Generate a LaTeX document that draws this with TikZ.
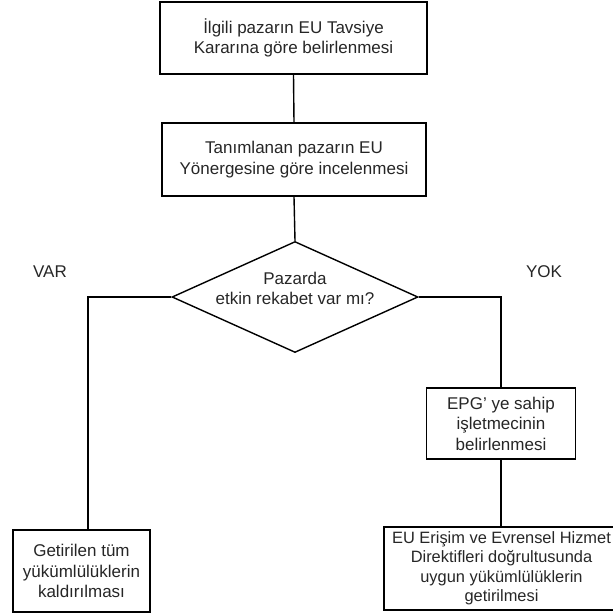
\documentclass[tikz,border=0pt]{standalone}
\usepackage{fontspec}
\setmainfont{Liberation Sans}
\usetikzlibrary{shapes.geometric}

\tikzstyle{kutu} = [draw, line width=1.4pt, inner sep=0pt, align=center, text=black!85]
\tikzstyle{karar} = [draw, diamond, line width=1.4pt, inner sep=-8pt, aspect=2.2, align=center, text=black!85]
\tikzstyle{etiket} = [text=black!85]
\tikzstyle{cizgi} = [line width=1.4pt]

\begin{document}
\begin{tikzpicture}[x=1pt, y=-1pt, font=\fontsize{17}{20.5}\selectfont]
\useasboundingbox (0,0) rectangle (613,616);
%begin ust kutular
\node[kutu, minimum width=267pt, minimum height=72pt] (ilgili) at (293.5,38)
    {İlgili pazarın EU Tavsiye\\Kararına göre belirlenmesi};
\node[kutu, minimum width=264pt, minimum height=73pt] (tanim) at (294,159.5)
    {Tanımlanan pazarın EU\\Yönergesine göre incelenmesi};
%end ust kutular
%begin karar
\node[karar, minimum width=246pt, minimum height=111pt] (soru) at (295,297)
    {Pazarda\\etkin rekabet var mı?\\[-3pt]};
\node[etiket] (var) at (50,272) {VAR};
\node[etiket] (yok) at (544,272) {YOK};
\coordinate (varkose) at (88,297);
\coordinate (yokkose) at (501,297);
%end karar
%begin alt kutular
\node[kutu, minimum width=149pt, minimum height=71pt] (epg) at (501,423.5)
    {EPG' ye sahip\\işletmecinin\\belirlenmesi};
\node[kutu, minimum width=137pt, minimum height=82pt] (kaldir) at (81.5,571)
    {Getirilen tüm\\yükümlülüklerin\\kaldırılması};
\node[kutu, minimum width=235pt, minimum height=83pt, font=\fontsize{16.4}{19.5}\selectfont] (getir) at (501.5,568.5)
    {EU Erişim ve Evrensel Hizmet\\Direktifleri doğrultusunda\\uygun yükümlülüklerin\\getirilmesi};
%end alt kutular
%begin cizgiler
\draw[cizgi] (ilgili.south) -- (tanim.north);
\draw[cizgi] (tanim.south) -- (soru.north);
\draw[cizgi] (soru.west) -- (varkose) -- (varkose |- kaldir.north);
\draw[cizgi] (soru.east) -- (yokkose) -- (yokkose |- epg.north);
\draw[cizgi] (epg.south) -- (epg.south |- getir.north);
%end cizgiler
\end{tikzpicture}
\end{document}
